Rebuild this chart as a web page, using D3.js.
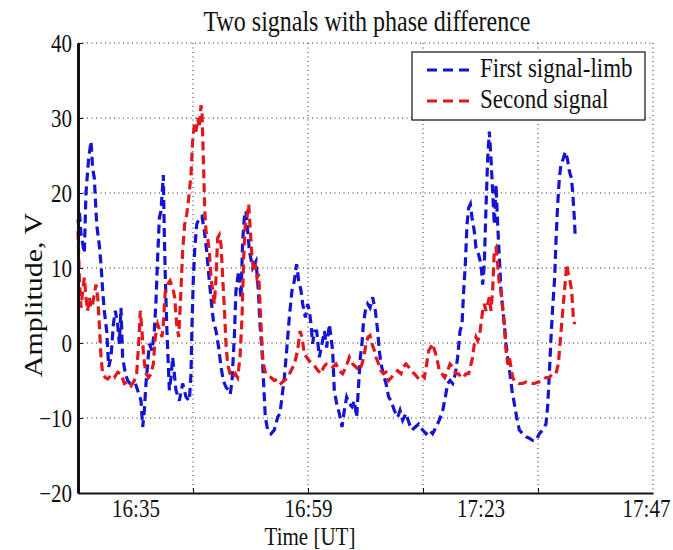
<!DOCTYPE html>
<html>
<head>
<meta charset="utf-8">
<script src="https://cdn.jsdelivr.net/npm/d3@7"></script>
<style>
  html, body { margin: 0; padding: 0; background: #fff; }
  svg text { font-family: "Liberation Serif", "Times New Roman", serif; fill: #111; }
</style>
</head>
<body>
<div id="chart"></div>
<script>
// time in minutes after 16:00 UT, amplitude in V
const firstSignal = [
  [27.00,16],[27.19,17.6],[27.42,14.5],[27.88,12],[28.11,20],[28.48,24.6],[28.81,26.9],[29.04,23.3],
  [29.27,22],[29.60,15.8],[29.97,13],[30.20,10.5],[30.43,7],[30.66,4.3],[30.99,1.6],[31.27,-3.2],
  [31.59,-1.9],[31.92,2.5],[32.19,4.3],[32.52,2.5],[32.75,-0.1],[32.98,4.7],[33.21,-1.9],[33.59,-4.1],
  [33.91,-5],[34.23,-5.4],[34.61,-5.4],[34.98,-5.4],[35.30,-6.3],[35.77,-7.7],[36.00,-11.2],[36.23,-9],
  [36.46,-5.4],[36.69,-2.8],[36.92,-0.1],[37.30,-1],[37.62,1.6],[37.85,5.6],[38.08,11.4],[38.32,16.7],
  [38.55,17.6],[38.87,22.4],[39.01,14.5],[39.15,8.7],[39.34,2.5],[39.52,-1.9],[39.71,-6.3],[39.94,-4.6],
  [40.17,-1.9],[40.40,-4.1],[40.63,-6.3],[41.10,-7.7],[41.56,-5.4],[42.03,-7.2],[42.49,-7.7],[42.72,-4.1],
  [42.86,2.5],[43.05,8.7],[43.23,12.3],[43.51,15.8],[43.88,16.7],[44.25,16.9],[44.58,14.9],[44.90,12.3],
  [45.18,9.2],[45.50,6],[45.83,3],[46.20,1.6],[46.57,-0.6],[46.90,-3.2],[47.22,-5],[47.59,-5.9],
  [47.96,-6.3],[48.19,-6.8],[48.43,-5],[48.75,0.8],[48.98,7],[49.35,9.6],[49.68,6],[49.91,13.6],
  [50.14,16.7],[50.37,17.6],[50.61,14.9],[50.84,12.3],[51.30,10],[51.77,10.9],[52.09,7],[52.32,2.5],
  [52.60,-1],[52.83,-5.4],[53.06,-9.9],[53.39,-11.6],[53.85,-12.1],[54.31,-11.6],[54.78,-9.9],[55.10,-9.4],
  [55.38,-7.2],[55.71,-4.6],[56.03,-1],[56.40,3.4],[56.77,7],[57.10,8.3],[57.42,10.5],[57.70,8.3],
  [58.03,7],[58.26,5.2],[58.63,3.4],[58.95,5.2],[59.19,4.3],[59.42,2.5],[59.65,-0.1],[59.88,1.6],
  [60.21,1.6],[60.58,-1.9],[60.95,-0.1],[61.27,1.6],[61.60,-0.6],[61.97,2.5],[62.43,-1],[62.66,-6.3],
  [62.99,-8.1],[63.36,-9.4],[63.73,-11.2],[64.05,-9],[64.38,-7.2],[64.75,-8.1],[65.12,-8.5],[65.45,-7.7],
  [65.77,-9.9],[66.05,-5.4],[66.28,-1.9],[66.51,-0.1],[66.70,2.5],[66.98,4.3],[67.30,5.2],[67.63,4.7],
  [68.00,6.1],[68.37,4.3],[68.69,1.6],[68.92,-1],[69.16,-2.8],[69.48,-4.1],[69.85,-5.4],[70.22,-7.2],
  [70.55,-7.7],[71.01,-9],[71.48,-9.9],[71.80,-9],[72.17,-10.3],[72.63,-9.4],[73.10,-10.8],[73.47,-11.6],
  [73.93,-11.2],[74.40,-10.8],[74.95,-11.6],[75.42,-12.1],[75.88,-11.6],[76.34,-12.1],[76.81,-11.2],[77.27,-10.3],
  [77.74,-9],[78.11,-7.2],[78.43,-5.4],[78.76,-5],[79.13,-5.4],[79.50,-4.1],[79.82,-1.9],[80.15,1.6],
  [80.43,2.5],[80.66,7],[80.89,10.5],[81.12,15.8],[81.35,18],[81.59,18.5],[81.82,16.7],[82.14,14.9],
  [82.37,12.7],[82.74,11.8],[83.07,10.5],[83.30,7.8],[83.53,10.5],[83.76,18],[84.00,24.6],[84.23,28.2],
  [84.46,24.6],[84.69,20.2],[84.92,15.8],[85.16,21.1],[85.39,15.8],[85.62,11.4],[85.85,7],[86.08,4.7],
  [86.31,2.5],[86.55,-0.1],[86.78,-1.9],[87.10,-4.1],[87.38,-6.3],[87.71,-8.1],[88.03,-9.9],[88.40,-11.6],
  [88.87,-12.1],[89.33,-12.5],[89.79,-12.7],[90.26,-13],[90.72,-13],[91.19,-12.1],[91.65,-11.6],[92.11,-10.8],
  [92.34,-8.5],[92.58,-4.1],[92.81,0.8],[93.04,4.7],[93.32,8.7],[93.50,13.6],[93.74,18.5],[93.97,22],
  [94.20,23.8],[94.52,24.6],[94.80,25.5],[95.08,24.6],[95.36,22.9],[95.64,22],[95.82,20.2],[96.05,16.7],
  [96.19,14]
];

const secondSignal = [
  [27.00,14.9],[27.19,8.7],[27.42,4.7],[27.65,7],[27.88,8.7],[28.11,6.1],[28.34,4.3],[28.58,6.1],
  [28.81,4.7],[29.04,5.2],[29.27,6.5],[29.50,7.8],[29.74,6.1],[29.97,2.5],[30.20,-1.9],[30.43,-4.1],
  [30.80,-4.6],[31.13,-4.8],[31.59,-4.3],[32.06,-4.6],[32.52,-3.9],[32.98,-4.1],[33.45,-5.4],[33.91,-5.2],
  [34.37,-5.7],[34.84,-5],[35.16,-4.1],[35.44,-0.1],[35.67,4.3],[35.90,1.6],[36.14,-1.9],[36.46,-4.1],
  [36.83,-4.6],[37.16,-4.1],[37.48,-2.8],[37.76,0.8],[38.08,2.5],[38.41,1.6],[38.69,0.8],[38.87,2.5],
  [39.15,7],[39.48,7.8],[39.80,8.3],[40.17,7.4],[40.45,6.1],[40.73,2.5],[41.01,0.8],[41.28,6.1],
  [41.56,12.3],[41.84,15.8],[42.12,17.1],[42.40,19.3],[42.72,22.4],[42.95,26.9],[43.19,29.1],[43.42,28.2],
  [43.65,30],[43.88,28.7],[44.11,31.7],[44.25,30.8],[44.44,24.6],[44.62,18],[44.81,14.9],[45.04,14],
  [45.27,12.3],[45.50,8.7],[45.74,7],[45.97,5.2],[46.20,8.7],[46.43,14],[46.66,14.4],[46.90,13.1],
  [47.13,8.7],[47.36,4.7],[47.59,-0.1],[47.82,-2.8],[48.15,-4.1],[48.52,-4.6],[48.89,-4.1],[49.21,-4.6],
  [49.54,-1.9],[49.82,3.4],[50.05,11.4],[50.28,15.8],[50.51,16.7],[50.75,18.5],[50.98,14.9],[51.21,11.4],
  [51.44,9.6],[51.67,10.5],[51.90,8.7],[52.14,9.2],[52.32,5.2],[52.51,1.6],[52.69,-1.9],[52.97,-3.7],
  [53.39,-4.3],[53.85,-4.6],[54.31,-5],[54.78,-4.8],[55.24,-5.4],[55.71,-5],[56.17,-4.6],[56.64,-3.7],
  [57.10,-2.8],[57.56,-1],[57.89,1.6],[58.17,0.8],[58.49,-1.5],[58.82,-1.9],[59.19,-2.4],[59.65,-2.8],
  [60.02,-3.2],[60.39,-3.7],[60.85,-4.1],[61.18,-3.2],[61.55,-2.8],[61.97,-2.8],[62.43,-3.2],[62.90,-2.8],
  [63.36,-3.7],[63.82,-4.1],[64.29,-3.2],[64.75,-1.9],[65.21,-2.8],[65.68,-3.2],[66.14,-3.7],[66.51,-2.8],
  [66.84,-1.5],[67.07,-0.1],[67.35,0.8],[67.63,1],[67.90,-0.1],[68.23,-1],[68.46,-1.9],[68.83,-2.8],
  [69.16,-3.7],[69.48,-4.1],[69.85,-3.9],[70.22,-5],[70.59,-4.6],[71.01,-4.1],[71.48,-3.7],[71.94,-4.1],
  [72.26,-3.2],[72.63,-2.8],[73.00,-3.2],[73.33,-3.7],[73.79,-4.1],[74.26,-4.6],[74.72,-4.1],[75.19,-4.6],
  [75.51,-2.8],[75.79,-1],[76.07,-0.6],[76.34,-0.1],[76.62,-1],[76.90,-1.9],[77.27,-3.7],[77.64,-4.1],
  [78.01,-4.6],[78.43,-3.7],[78.76,-2.8],[79.13,-3.2],[79.59,-4.1],[79.96,-4.1],[80.29,-4.6],[80.61,-4.6],
  [80.98,-4.1],[81.35,-4.1],[81.68,-2.8],[81.91,-1.9],[82.14,-0.1],[82.37,0.8],[82.61,0.3],[82.84,0.8],
  [83.07,2.5],[83.30,4.3],[83.53,5.2],[83.76,4.3],[84.00,5.2],[84.23,6.1],[84.46,4.3],[84.69,7],
  [84.92,12.3],[85.16,12.7],[85.39,10.5],[85.62,7.8],[85.85,7],[86.08,4.7],[86.31,2.5],[86.55,-1],
  [86.78,-2.8],[87.01,-1.9],[87.24,-3.2],[87.47,-4.6],[87.85,-5.2],[88.31,-5.4],[88.87,-5.4],[89.33,-5.2],
  [89.89,-5.4],[90.49,-5.4],[91.09,-5.2],[91.65,-5],[92.11,-4.6],[92.58,-4.6],[93.04,-4.1],[93.50,-4.1],
  [93.83,-2.8],[94.06,-0.1],[94.29,2.5],[94.52,5.2],[94.76,7.8],[94.99,10.5],[95.22,9.2],[95.45,8.3],
  [95.68,7],[95.92,3.4],[96.10,2.5]
];

const timeDomain = [27, 107];            // 16:27 .. 17:47
const gridTimes = [43, 59, 75, 91];      // grid / tick marks
const labelTimes = [35, 59, 83, 107];    // 16:35 16:59 17:23 17:47
const ampTicks = [-20, -10, 0, 10, 20, 30, 40];
const seriesNames = ["First signal-limb", "Second signal"];
const seriesColors = ["#1414d2", "#e0191e"];

const W = 673, H = 550;
const margin = { top: 43, right: 20, bottom: 57, left: 78 };
const width = W - margin.left - margin.right;
const height = H - margin.top - margin.bottom;
const serif = "'Liberation Serif', 'Times New Roman', serif";
const stretch = "scale(1,1.2)";

const fmt = m => `${16 + Math.floor(m / 60)}:${String(m % 60).padStart(2, "0")}`;

const svg = d3.select("#chart").append("svg")
    .attr("width", W)
    .attr("height", H)
    .attr("font-family", serif);

const g = svg.append("g")
    .attr("transform", `translate(${margin.left},${margin.top})`);

const x = d3.scaleLinear().domain(timeDomain).range([0, width]);
const y = d3.scaleLinear().domain([-20, 40]).range([height, 0]);

// dotted grid
const gridStyle = sel => sel.attr("stroke", "#222").attr("stroke-width", 1)
    .attr("stroke-dasharray", "1,3.5").attr("fill", "none");

g.selectAll(".vgrid").data(gridTimes.concat([timeDomain[1]])).enter().append("line")
    .attr("x1", d => x(d)).attr("x2", d => x(d))
    .attr("y1", 0).attr("y2", height)
    .call(gridStyle);

g.selectAll(".hgrid").data(ampTicks.filter(v => v > -20)).enter().append("line")
    .attr("x1", 0).attr("x2", width)
    .attr("y1", d => y(d)).attr("y2", d => y(d))
    .call(gridStyle);

// signals
const line = d3.line().x(d => x(d[0])).y(d => y(d[1]));
[firstSignal, secondSignal].forEach((data, i) => {
    g.append("path")
        .datum(data)
        .attr("d", line)
        .attr("fill", "none")
        .attr("stroke", seriesColors[i])
        .attr("stroke-width", 3.2)
        .attr("stroke-dasharray", "9,5");
});

// bottom axis: tick marks on the grid, labels every 24 min
const xTicks = g.append("g")
    .attr("transform", `translate(0,${height})`)
    .call(d3.axisBottom(x).tickValues(gridTimes).tickSize(-5).tickSizeOuter(0).tickFormat(""));
xTicks.select(".domain").attr("stroke", "#111").attr("stroke-width", 2);
xTicks.selectAll(".tick line").attr("stroke", "#111");

const xLabels = g.append("g")
    .attr("transform", `translate(0,${height})`)
    .call(d3.axisBottom(x).tickValues(labelTimes).tickSize(0).tickFormat(fmt));
xLabels.attr("font-family", serif).attr("font-size", 21);
xLabels.select(".domain").remove();
xLabels.selectAll("text")
    .attr("y", 0).attr("dy", null)
    .attr("transform", (d, i, n) => `translate(${i === n.length - 1 ? -7 : 0},24) ${stretch}`)
    .attr("fill", "#111");

// left axis
const yAxis = g.append("g")
    .call(d3.axisLeft(y).tickValues(ampTicks).tickSize(-5).tickSizeOuter(0));
yAxis.attr("font-family", serif).attr("font-size", 21);
yAxis.select(".domain").attr("stroke", "#111").attr("stroke-width", 3);
yAxis.selectAll(".tick line").attr("stroke", "#111");
yAxis.selectAll("text")
    .attr("x", 0).attr("dy", null)
    .attr("transform", `translate(-6,8) ${stretch}`)
    .attr("fill", "#111");

// titles
svg.append("text")
    .attr("transform", `translate(367,31) ${stretch}`)
    .attr("text-anchor", "middle")
    .style("font-size", "24px")
    .text("Two signals with phase difference");

svg.append("text")
    .attr("transform", `translate(310,545) ${stretch}`)
    .attr("text-anchor", "middle")
    .style("font-size", "21px")
    .text("Time [UT]");

svg.append("text")
    .attr("transform", "translate(42,295) rotate(-90) scale(1.2,1)")
    .attr("text-anchor", "middle")
    .style("font-size", "25px")
    .text("Amplitude, V");

// legend
const legend = svg.append("g").attr("transform", "translate(412,52)");
legend.append("rect")
    .attr("width", 233).attr("height", 68)
    .attr("fill", "#fff").attr("stroke", "#111").attr("stroke-width", 1.2);
seriesNames.forEach((name, i) => {
    const row = legend.append("g").attr("transform", `translate(0,${18 + i * 31})`);
    row.append("line")
        .attr("x1", 15).attr("x2", 63)
        .attr("stroke", seriesColors[i]).attr("stroke-width", 3)
        .attr("stroke-dasharray", "10,6");
    row.append("text")
        .attr("transform", `translate(68,7) ${stretch}`)
        .style("font-size", "23px")
        .text(name);
});
</script>
</body>
</html>
